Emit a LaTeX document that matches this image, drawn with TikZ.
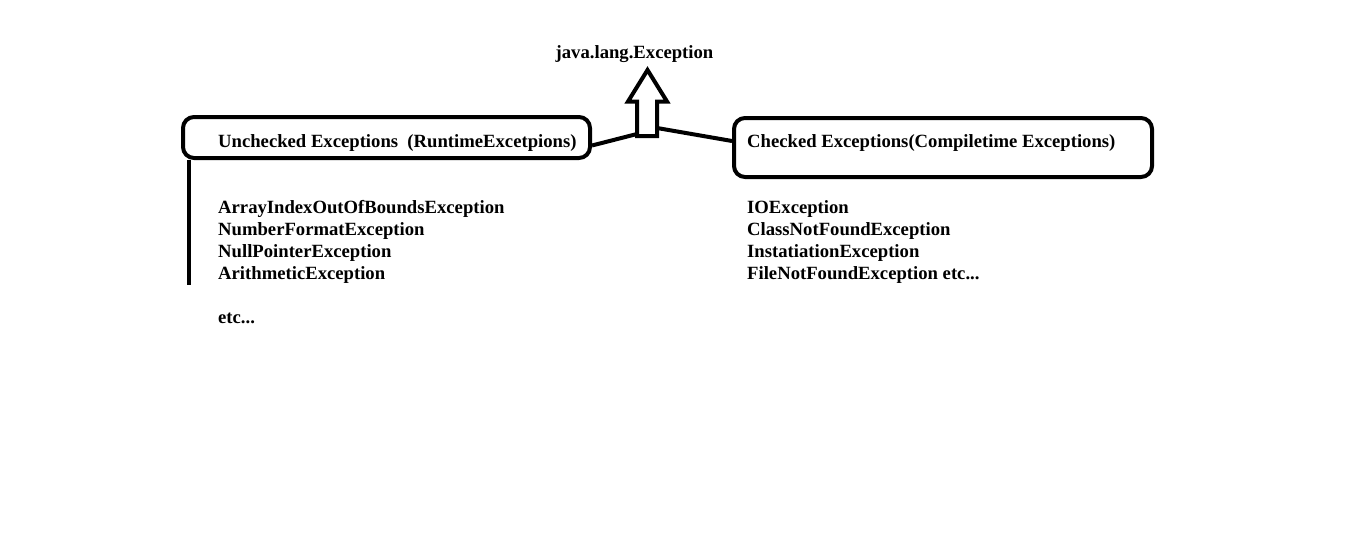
\documentclass[tikz,border=0pt]{standalone}
\usepackage{fontspec}
\setmainfont{Liberation Serif}
\begin{document}
\begin{tikzpicture}[x=1pt,y=-1pt,
  lbl/.style={anchor=base west,inner sep=0pt,font=\fontsize{18.67}{22}\selectfont\bfseries},
  boxshape/.style={draw,line width=4pt,rounded corners=11pt,inner sep=0pt},
  link/.style={line width=4pt}]
\useasboundingbox[fill=white] (0,0) rectangle (1359,551);
% title
\node[lbl,anchor=base] (top) at (634.5,59) {java.lang.Exception};
% boxes
\node[boxshape,minimum width=407pt,minimum height=41pt] (lbox) at (386.5,137.5) {};
\node[boxshape,minimum width=418pt,minimum height=59pt] (rbox) at (943,147.5) {};
\node[lbl] (ltitle) at (218,147) {Unchecked Exceptions\ \ (RuntimeExcetpions)};
\node[lbl] (rtitle) at (747,147) {Checked Exceptions(Compiletime Exceptions)};
% arrow
\draw[line width=4pt,line join=miter] (637,136) -- (637,101.5) -- (628,101.5) -- (647.5,70) -- (667,101.5) -- (657,101.5) -- (657,136) -- cycle;
\coordinate (arrL) at (637,134);
\coordinate (arrR) at (657,128);
% connectors
\draw[link] ([yshift=-8pt]lbox.east) -- (arrL);
\draw[link] (arrR) -- ([yshift=6.5pt]rbox.west);
\draw[link] ([xshift=8pt]lbox.south west) -- ++(0,125);
% lists
\node[lbl] (l1) at (218,213) {ArrayIndexOutOfBoundsException};
\node[lbl] (l2) at (218,235) {NumberFormatException};
\node[lbl] (l3) at (218,257) {NullPointerException};
\node[lbl] (l4) at (218,279) {ArithmeticException};
\node[lbl] (l5) at (218,323) {etc...};
\node[lbl] (r1) at (747,213) {IOException};
\node[lbl] (r2) at (747,235) {ClassNotFoundException};
\node[lbl] (r3) at (747,257) {InstatiationException};
\node[lbl] (r4) at (747,279) {FileNotFoundException etc...};
\end{tikzpicture}
\end{document}
